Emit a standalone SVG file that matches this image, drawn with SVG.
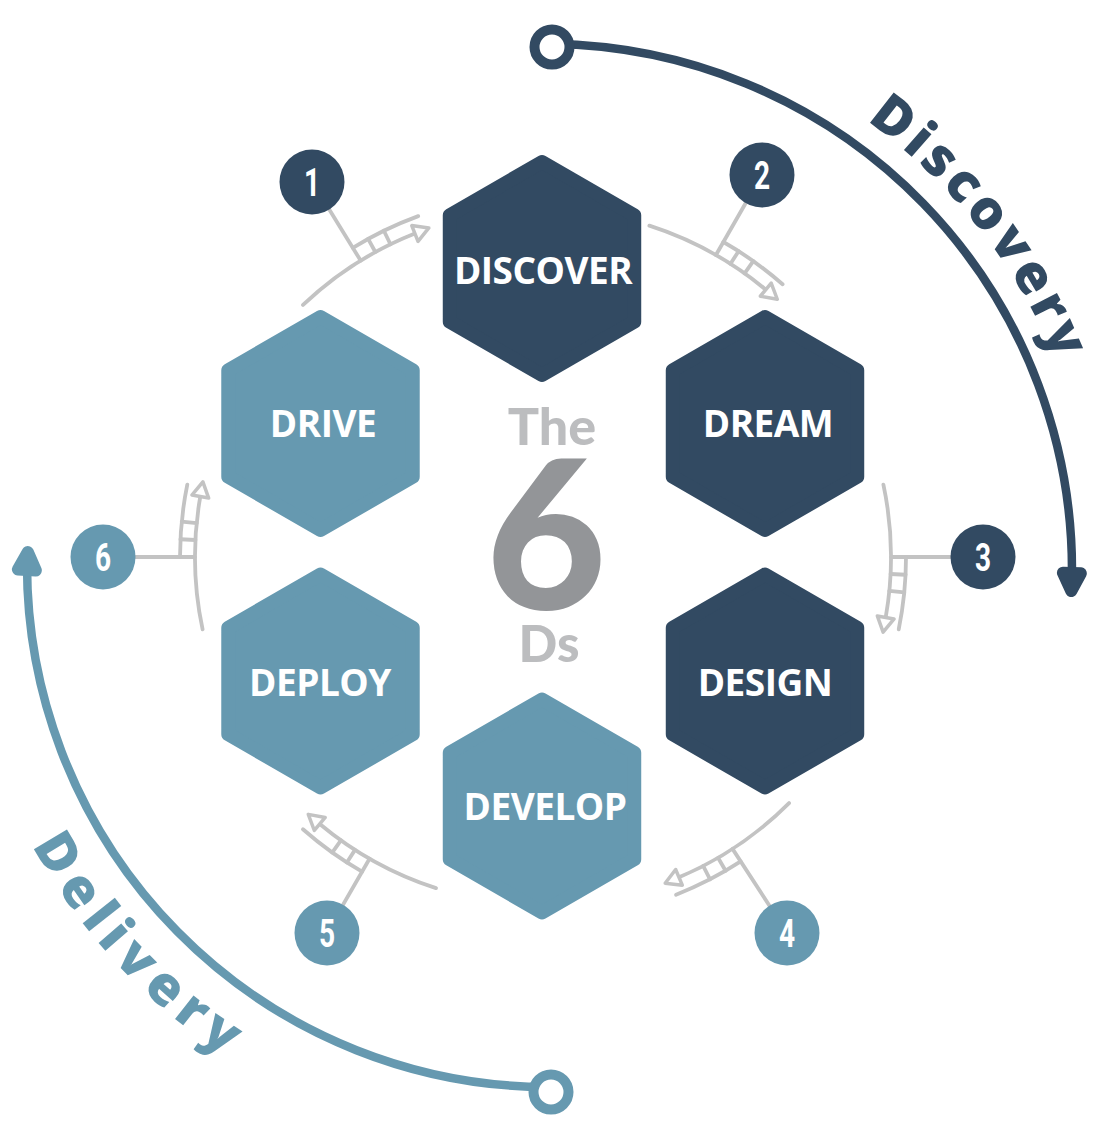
<svg xmlns="http://www.w3.org/2000/svg" xmlns:xlink="http://www.w3.org/1999/xlink" width="1099" height="1125" viewBox="0 0 1099 1125">
<style>
.dark{fill:#324a62;stroke:#324a62}
.light{fill:#6699b0;stroke:#6699b0}
.hex{stroke-width:14;stroke-linejoin:round}
.hl{font-family:"Open Sans","Liberation Sans",sans-serif;font-weight:700;font-size:37px;fill:#fff;stroke:none;text-anchor:middle;letter-spacing:-0.5px}
.num{font-family:Roboto,"Liberation Sans",sans-serif;font-weight:700;font-size:39px;fill:#fff;text-anchor:middle}
.gl{fill:none;stroke:#c3c3c3;stroke-width:3.8;stroke-linecap:round}
.arcD{fill:none;stroke:#324a62;stroke-width:8.5}
.arcL{fill:none;stroke:#6699b0;stroke-width:8.5}
.ring{fill:#fff;stroke-width:10}
.big{font-family:"Open Sans","Liberation Sans",sans-serif;font-weight:800;font-size:54px}
.ctr{font-family:Lato,"Open Sans","Liberation Sans",sans-serif;font-weight:900;text-anchor:middle}
</style>
<defs>
<path id="hexp" d="M0,-106.5 L92.23,-53.25 L92.23,53.25 L0,106.5 L-92.23,53.25 L-92.23,-53.25 Z"/>
<marker id="tri" markerUnits="userSpaceOnUse" viewBox="-5 -15 30 30" markerWidth="30" markerHeight="30" refX="0" refY="0" orient="auto" overflow="visible">
<path d="M0,-8.5 L15,0 L0,8.5 Z" fill="#fff" stroke="#c3c3c3" stroke-width="3.5" stroke-linejoin="round"/>
</marker>
<g id="conn">
<path class="gl" d="M543,209 L543,128"/>
<path class="gl" d="M470.65,216.6 A348,348 0 0 1 603.43,214.29" marker-end="url(#tri)"/>
<path class="gl" d="M543,194 A363,363 0 0 1 615.37,201.29"/>
<path class="gl" d="M560,209.41 L560.73,194.43 M576.96,210.66 L578.42,195.73"/>
</g>
<path id="bigArrow" d="M-13,0 L-31,-9 L-31,9 Z" fill="#fff" stroke-width="12" stroke-linejoin="round"/>
<path id="tpDisc" d="M866.5,120.6 A551,551 0 0 1 1070,399.7"/>
<path id="tpDeli" d="M32.3,845.6 A588,588 0 0 0 446.9,1144.1"/>
</defs>

<g id="connectors">
<use href="#conn" transform="rotate(-31.6 543 557)"/>
<use href="#conn" transform="rotate(29.8 543 557)"/>
<use href="#conn" transform="rotate(90 543 557)"/>
<use href="#conn" transform="rotate(147 543 557)"/>
<use href="#conn" transform="rotate(209.9 543 557)"/>
<use href="#conn" transform="rotate(270 543 557)"/>
</g>

<g id="discovery-phase">
<path class="arcD" d="M551.7,44 A526,526 0 0 1 1071.9,579.2"/>
<use href="#bigArrow" stroke="#324a62" transform="translate(1070.8,604) rotate(92)"/>
<circle class="ring dark" cx="552" cy="47" r="17.5" style="fill:#fff"/>
<text class="big" fill="#324a62" letter-spacing="4.5"><textPath href="#tpDisc">Discovery</textPath></text>
</g>

<g id="delivery-phase">
<path class="arcL" d="M551,1087 A522,522 0 0 1 27.1,555.9"/>
<use href="#bigArrow" stroke="#6699b0" transform="translate(28.5,539) rotate(-87)"/>
<circle class="ring light" cx="551" cy="1092" r="17.5" style="fill:#fff"/>
<text class="big" fill="#6699b0" letter-spacing="8"><textPath href="#tpDeli">Delivery</textPath></text>
</g>

<g id="discover"><use href="#hexp" class="dark hex" transform="translate(542,268.5)"/><text class="hl" x="543" y="284">DISCOVER</text></g>
<g id="dream"><use href="#hexp" class="dark hex" transform="translate(765,423.5)"/><text class="hl" x="768" y="437">DREAM</text></g>
<g id="design"><use href="#hexp" class="dark hex" transform="translate(765,681)"/><text class="hl" x="765" y="696">DESIGN</text></g>
<g id="develop"><use href="#hexp" class="light hex" transform="translate(542,806)"/><text class="hl" x="545" y="820">DEVELOP</text></g>
<g id="deploy"><use href="#hexp" class="light hex" transform="translate(320.5,681)"/><text class="hl" x="320" y="696">DEPLOY</text></g>
<g id="drive"><use href="#hexp" class="light hex" transform="translate(320.5,423.5)"/><text class="hl" x="323" y="437">DRIVE</text></g>

<g id="title">
<text class="ctr" x="552" y="445" font-size="52" fill="#bcbdbf">The</text>
<text class="ctr" x="546" y="609" font-size="208" fill="#939598">6</text>
<text class="ctr" x="549" y="662" font-size="51" fill="#bcbdbf">Ds</text>
</g>

<g id="step1"><circle cx="312" cy="182" r="32.5" fill="#324a62"/><text class="num" transform="translate(312,196) scale(0.72,1)">1</text></g>
<g id="step2"><circle cx="762" cy="175" r="32.5" fill="#324a62"/><text class="num" transform="translate(762,189) scale(0.72,1)">2</text></g>
<g id="step3"><circle cx="983" cy="557" r="32.5" fill="#324a62"/><text class="num" transform="translate(983,571) scale(0.72,1)">3</text></g>
<g id="step4"><circle cx="787" cy="933" r="32.5" fill="#6699b0"/><text class="num" transform="translate(787,947) scale(0.72,1)">4</text></g>
<g id="step5"><circle cx="327" cy="933" r="32.5" fill="#6699b0"/><text class="num" transform="translate(327,947) scale(0.72,1)">5</text></g>
<g id="step6"><circle cx="103" cy="557" r="32.5" fill="#6699b0"/><text class="num" transform="translate(103,571) scale(0.72,1)">6</text></g>
</svg>
